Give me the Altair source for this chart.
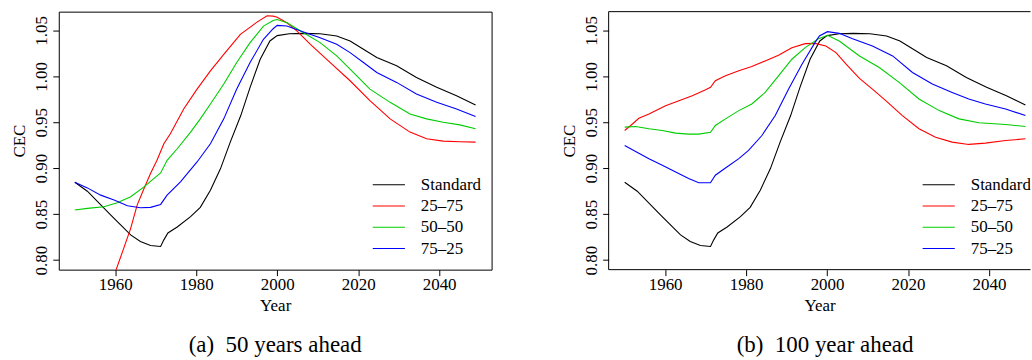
import altair as alt
import pandas as pd

FONT = "Liberation Serif"

series_names = ["Standard", "25–75", "50–50", "75–25"]
series_colors = ["#000000", "#FF0000", "#00CD00", "#0000FF"]

# ---- Standard (same in both panels) ----
std_years = [1950, 1953.1, 1958.9, 1963.8, 1966.2, 1968.7, 1971.2, 1972.0, 1973.0, 1975.3,
             1978.6, 1981.0, 1983.5, 1986.0, 1988.4, 1991.0, 1993.3, 1995.8, 1998.2, 2000.0,
             2003.0, 2006.5, 2010.6, 2014.7, 2018.0, 2021.3, 2024.6, 2029.5, 2034.4, 2039.4,
             2044.3, 2049]
std_vals = [0.8848, 0.8750, 0.8490, 0.8274, 0.8202, 0.8159, 0.8148, 0.8220, 0.8295, 0.8360,
            0.8473, 0.8574, 0.8761, 0.8996, 0.9284, 0.9573, 0.9880, 1.0186, 1.0385, 1.0443,
            1.0464, 1.0468, 1.0464, 1.0439, 1.0385, 1.0294, 1.0204, 1.0114, 0.9988, 0.9880,
            0.9789, 0.9688]

# ---- Panel (a): 50 years ahead ----
a_red_years = [1950, 1953, 1956, 1958, 1960, 1962.1, 1963.8, 1965.4, 1967.1, 1968.7, 1970.3,
               1972.0, 1973.6, 1976.9, 1980.2, 1983.5, 1986.8, 1990.9, 1995.0, 1997.5, 1999.0,
               2000.0, 2002.4, 2004.9, 2008.2, 2013.1, 2018.0, 2022.9, 2027.9, 2032.8, 2036.9,
               2041.0, 2045.1, 2049]
a_red_vals = [0.700, 0.725, 0.752, 0.770, 0.787, 0.8130, 0.8346, 0.8599, 0.8779, 0.8942, 0.9086,
              0.9266, 0.9375, 0.9645, 0.9861, 1.0060, 1.0240, 1.0457, 1.0590, 1.0660, 1.0655,
              1.0644, 1.0583, 1.0493, 1.0348, 1.0150, 0.9952, 0.9735, 0.9537, 0.9393, 0.9320,
              0.9295, 0.9288, 0.9284]

a_green_years = [1950, 1953.1, 1957.2, 1960.5, 1963.8, 1967.1, 1969.5, 1971.2, 1972.8, 1975.3,
                 1978.6, 1981.0, 1983.5, 1986.8, 1990.0, 1993.3, 1996.6, 1999.0, 2000.0, 2002.4,
                 2006.5, 2010.6, 2014.7, 2018.8, 2022.9, 2027.9, 2032.8, 2036.9, 2041.0, 2045.1,
                 2049]
a_green_vals = [0.8545, 0.8563, 0.8581, 0.8624, 0.8689, 0.8797, 0.8887, 0.8949, 0.9086, 0.9212,
                0.9392, 0.9537, 0.9699, 0.9916, 1.0150, 1.0367, 1.0547, 1.0608, 1.0619, 1.0583,
                1.0475, 1.0367, 1.0222, 1.0042, 0.9861, 0.9717, 0.9591, 0.9537, 0.9501, 0.9472,
                0.9429]

a_blue_years = [1950, 1953.1, 1956.4, 1959.7, 1963.0, 1966.2, 1968.7, 1971.2, 1972.8, 1976.1,
                1980.2, 1983.5, 1986.8, 1990.0, 1993.3, 1996.6, 1999.0, 2000.0, 2002.4, 2006.5,
                2010.6, 2014.7, 2018.0, 2021.3, 2024.6, 2029.5, 2034.4, 2039.4, 2044.3, 2049]
a_blue_vals = [0.8848, 0.8786, 0.8707, 0.8653, 0.8592, 0.8570, 0.8574, 0.8606, 0.8707, 0.8852,
               0.9068, 0.9266, 0.9537, 0.9861, 1.0150, 1.0403, 1.0518, 1.0554, 1.0547, 1.0482,
               1.0421, 1.0348, 1.0258, 1.0150, 1.0042, 0.9934, 0.9807, 0.9717, 0.9645, 0.9562]

# ---- Panel (b): 100 year ahead ----
b_red_years = [1950, 1951.5, 1953.5, 1956.0, 1958.5, 1960.1, 1963.4, 1966.7, 1970.0, 1971.2,
               1972.4, 1974.9, 1978.2, 1981.4, 1984.7, 1988.0, 1991.3, 1994.6, 1997.0, 1999.7,
               2002.2, 2004.7, 2008.0, 2011.2, 2014.5, 2018.6, 2022.7, 2026.8, 2030.9, 2035.0,
               2039.1, 2044.1, 2049]
b_red_vals = [0.9411, 0.9465, 0.9544, 0.9591, 0.9645, 0.9681, 0.9735, 0.9789, 0.9854, 0.9880,
              0.9952, 1.0006, 1.0060, 1.0107, 1.0168, 1.0229, 1.0312, 1.0356, 1.0359, 1.0330,
              1.0258, 1.0132, 0.9977, 0.9861, 0.9735, 0.9573, 0.9429, 0.9338, 0.9284, 0.9259,
              0.9273, 0.9302, 0.9320]

b_green_years = [1950, 1952.7, 1956.0, 1959.3, 1962.6, 1965.8, 1968.3, 1971.2, 1972.4, 1974.9,
                 1978.2, 1981.4, 1984.7, 1988.0, 1991.3, 1994.6, 1997.9, 2000.1, 2003.0, 2008.0,
                 2012.9, 2017.8, 2022.7, 2027.7, 2032.6, 2037.5, 2044.1, 2049]
b_green_vals = [0.9447, 0.9454, 0.9429, 0.9411, 0.9382, 0.9371, 0.9371, 0.9392, 0.9465, 0.9537,
                0.9627, 0.9699, 0.9825, 1.0006, 1.0186, 1.0312, 1.0410, 1.0446, 1.0385, 1.0222,
                1.0096, 0.9934, 0.9753, 0.9627, 0.9537, 0.9494, 0.9476, 0.9454]

b_blue_years = [1950, 1952.7, 1956.0, 1959.3, 1962.6, 1965.8, 1968.3, 1971.2, 1972.4, 1974.9,
                1978.2, 1980.6, 1983.9, 1987.2, 1990.5, 1993.8, 1997.0, 1998.1, 2000.1, 2003.0,
                2006.3, 2011.2, 2016.2, 2021.1, 2026.0, 2030.9, 2035.0, 2039.1, 2044.1, 2049]
b_blue_vals = [0.9248, 0.9183, 0.9104, 0.9032, 0.8960, 0.8887, 0.8841, 0.8841, 0.8924, 0.9003,
               0.9104, 0.9194, 0.9356, 0.9573, 0.9861, 1.0132, 1.0367, 1.0440, 1.0486, 1.0468,
               1.0410, 1.0330, 1.0222, 1.0042, 0.9916, 0.9825, 0.9753, 0.9699, 0.9645, 0.9573]

x_ticks = [1960, 1980, 2000, 2020, 2040]
y_ticks = [0.80, 0.85, 0.90, 0.95, 1.00, 1.05]
captions = ["(a)\u00a0\u00a050 years ahead", "(b)\u00a0\u00a0100 year ahead"]


def make_df(groups):
    rows = []
    for name, ys, vs in groups:
        for i, (yr, v) in enumerate(zip(ys, vs)):
            rows.append({"series": name, "Year": yr, "CEC": v, "ord": i})
    return pd.DataFrame(rows)


df_a = make_df([("Standard", std_years, std_vals), ("25–75", a_red_years, a_red_vals),
                ("50–50", a_green_years, a_green_vals), ("75–25", a_blue_years, a_blue_vals)])
df_b = make_df([("Standard", std_years, std_vals), ("25–75", b_red_years, b_red_vals),
                ("50–50", b_green_years, b_green_vals), ("75–25", b_blue_years, b_blue_vals)])
legend_df = pd.DataFrame({"series": series_names, "row": list(range(len(series_names)))})

H = 259
PX_PER_YEAR = 4.0638
X0 = 1946.04
WA = 434.5          # panel (a) plot width (full range 1946.04-2052.96)
WB = 423.5          # panel (b) plot width: its right part is cut by the page edge
color_scale = alt.Scale(domain=series_names, range=series_colors)
row_scale = alt.Scale(domain=[0, 3], range=[173.8, 237.8])


def panel(df, caption, width, framed, cap_dx):
    xdom = [X0, X0 + width / PX_PER_YEAR]
    lines = alt.Chart(df).mark_line(strokeWidth=1.1, clip=True).encode(
        x=alt.X("Year:Q",
                scale=alt.Scale(domain=xdom, nice=False, zero=False),
                axis=alt.Axis(values=x_ticks, format="d", title="Year",
                              labelPadding=1, titleY=41, titleBaseline="alphabetic")),
        y=alt.Y("CEC:Q",
                scale=alt.Scale(domain=[0.7896, 1.0704], nice=False, zero=False),
                axis=alt.Axis(values=y_ticks, format=".2f", title="CEC",
                              labelAngle=270, labelAlign="center", labelBaseline="alphabetic",
                              labelPadding=6, titleAngle=270, titleX=-34, titleY=H / 2,
                              titleAlign="center", titleBaseline="alphabetic")),
        color=alt.Color("series:N", scale=color_scale, legend=None),
        order="ord:Q",
    )
    leg_lines = alt.Chart(legend_df).mark_rule(strokeWidth=1.1, clip=True).encode(
        x=alt.value(315.2), x2=alt.value(347.5),
        y=alt.Y("row:Q", scale=row_scale, axis=None),
        color=alt.Color("series:N", scale=color_scale, legend=None),
    )
    leg_text = alt.Chart(legend_df).mark_text(
        align="left", baseline="middle", font=FONT, fontSize=17, color="black", clip=True
    ).encode(
        x=alt.value(363.5),
        y=alt.Y("row:Q", scale=row_scale, axis=None),
        text="series:N",
    )
    layers = [lines, leg_lines, leg_text]
    if not framed:
        frame_df = pd.DataFrame({"k": [0]})
        border = alt.Chart(frame_df).mark_rule(color="black", strokeWidth=1)
        layers += [
            border.encode(x=alt.value(0), x2=alt.value(width), y=alt.value(0)),
            border.encode(x=alt.value(0), x2=alt.value(width), y=alt.value(H)),
            border.encode(x=alt.value(0), y=alt.value(0), y2=alt.value(H)),
        ]
    ch = alt.layer(*layers).resolve_scale(y="independent").properties(
        width=width, height=H,
        title=alt.TitleParams(caption, orient="bottom", anchor="middle", frame="group",
                              font=FONT, fontSize=23, fontWeight="normal", color="black",
                              baseline="alphabetic", offset=39, dx=cap_dx),
    )
    if not framed:
        ch = ch.properties(view=alt.ViewBackground(stroke="transparent"))
    return ch


pa = panel(df_a, captions[0], WA, True, 0)
pb = panel(df_b, captions[1], WB, False, 5.5)

chart = alt.hconcat(pa, pb, spacing=68).properties(
    padding={"left": 10, "top": 10, "right": 0, "bottom": 0},
    background="white",
).configure_view(
    stroke="black", strokeWidth=1
).configure_axis(
    labelFont=FONT, labelFontSize=17, labelColor="black",
    titleFont=FONT, titleFontSize=17, titleFontWeight="normal", titleColor="black",
    domain=False, ticks=True, tickSize=6, tickColor="black", tickWidth=1, grid=False,
)

chart.save("out.html", embed_options={"renderer": "svg", "actions": False})
